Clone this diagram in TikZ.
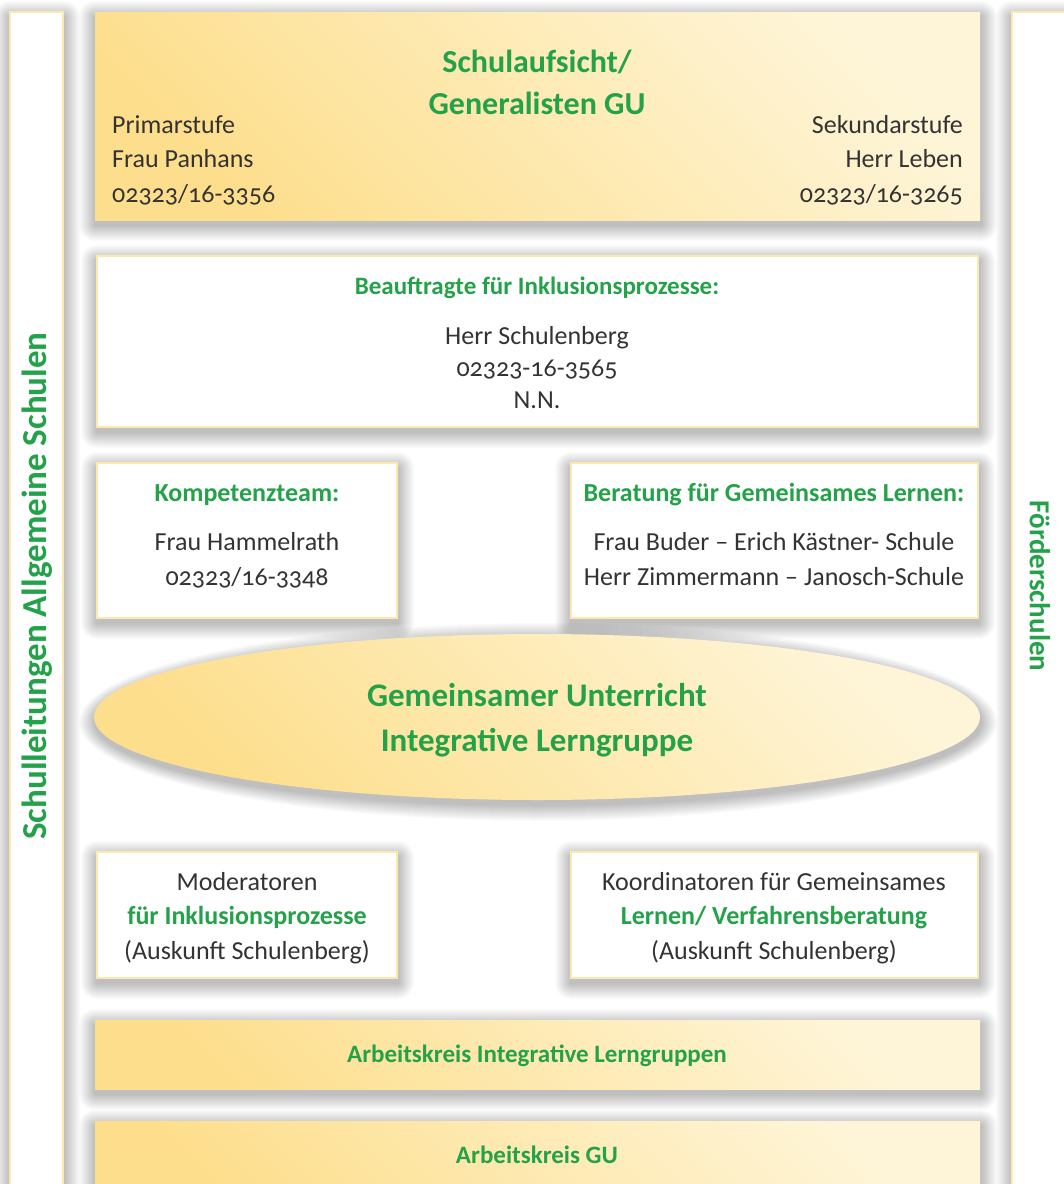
\documentclass[tikz,border=0pt]{standalone}
\usepackage{fontspec}
\setmainfont{Carlito}[Numbers=OldStyle]
\definecolor{gugreen}{HTML}{23A24A}
\definecolor{gutext}{HTML}{333333}
\definecolor{gudark}{HTML}{FDDE8C}
\definecolor{gulight}{HTML}{FEF5D8}
\definecolor{guframe}{HTML}{FDE8AE}
%% soft shadow under a box: left, top, right, bottom
\newcommand{\haze}[4]{%
  \foreach \r in {1,...,16}
    \fill[black,opacity=0.017,rounded corners=\r pt] (#1-\r,#2+\r-5) rectangle (#3+\r+1,#4-\r-5);}
\tikzset{
  goldbox/.style={left color=gudark,right color=gulight,shading angle=135},
  whitebox/.style={fill=white,draw=guframe,line width=2.5pt},
  txt/.style={text=gutext,font=\fontsize{26}{34}\selectfont,inner sep=0pt,anchor=base},
  head/.style={text=gugreen,font=\fontsize{32}{42}\selectfont\bfseries,inner sep=0pt},
  subhead/.style={text=gugreen,font=\fontsize{26}{30}\selectfont\bfseries,inner sep=0pt,anchor=base},
}
\begin{document}
\begin{tikzpicture}[x=1pt,y=1pt]
    \clip (0,0) rectangle (1064,-1184);
    \fill[white] (0,0) rectangle (1064,-1184);
    %% shadows
    \haze{10}{-12}{63}{-1230}
    \haze{1012}{-12}{1090}{-1230}
    \haze{95}{-12}{980}{-220}
    \haze{97}{-256}{978}{-427}
    \haze{97}{-463}{397}{-618}
    \haze{571}{-463}{978}{-618}
    \foreach \r in {1,...,16}
        \fill[black,opacity=0.017] (538,-722) ellipse ({443+\r} and {83+\r});
    \haze{97}{-852}{397}{-978}
    \haze{571}{-852}{978}{-978}
    \haze{95}{-1020}{980}{-1089}
    \haze{95}{-1121}{980}{-1230}
    %% side bars
    \path[whitebox,line width=2pt] (10,-12) rectangle (63,-1210);
    \path[whitebox,line width=2pt] (1012,-12) rectangle (1080,-1210);
    \node[head,rotate=90,font=\fontsize{35}{40}\selectfont\bfseries] (allgemein) at (37,-586) {Schulleitungen Allgemeine Schulen};
    \node[head,rotate=-90,font=\fontsize{29}{34}\selectfont\bfseries] (foerder) at (1040,-586) {Förderschulen};
    %% Schulaufsicht
    \path[goldbox] (95,-12) rectangle (980,-220);
    \node[head,anchor=base] (aufsicht) at (537,-72) {Schulaufsicht/};
    \node[head,anchor=base] (generalisten) at (537,-114) {Generalisten GU};
    \foreach \y/\t in {133/Primarstufe,167/Frau Panhans,202/02323\slash16-3356}
        \node[txt,anchor=base west] (prim\y) at (112,-\y) {\t};
    \foreach \y/\t in {133/Sekundarstufe,167/Herr Leben,202/02323\slash16-3265}
        \node[txt,anchor=base east] (sek\y) at (963,-\y) {\t};
    %% Beauftragte
    \path[whitebox] (97,-256) rectangle (978,-427);
    \node[subhead,font=\fontsize{25}{30}\selectfont\bfseries] (beauftragte) at (537,-294) {Beauftragte für Inklusionsprozesse:};
    \foreach \y/\t in {344/Herr Schulenberg,376/02323-16-3565,408/N.N.}
        \node[txt] (beauf\y) at (537,-\y) {\t};
    %% Kompetenzteam / Beratung
    \path[whitebox] (97,-463) rectangle (397,-618);
    \path[whitebox] (571,-463) rectangle (978,-618);
    \node[subhead] (kompetenz) at (247,-501) {Kompetenzteam:};
    \foreach \y/\t in {550/Frau Hammelrath,585/02323\slash16-3348}
        \node[txt] (komp\y) at (247,-\y) {\t};
    \node[subhead] (beratung) at (774,-501) {Beratung für Gemeinsames Lernen:};
    \foreach \y/\t in {550/Frau Buder -- Erich Kästner- Schule,585/Herr Zimmermann -- Janosch-Schule}
        \node[txt] (berat\y) at (774,-\y) {\t};
    %% Gemeinsamer Unterricht
    \path[goldbox] (537,-717) ellipse (443 and 83);
    \node[head,anchor=base,font=\fontsize{33}{42}\selectfont\bfseries] (unterricht) at (537,-706) {Gemeinsamer Unterricht};
    \node[head,anchor=base,font=\fontsize{33}{42}\selectfont\bfseries] (lerngruppe) at (537,-751) {Integrative Lerngruppe};
    %% Moderatoren / Koordinatoren
    \path[whitebox] (97,-852) rectangle (397,-978);
    \path[whitebox] (571,-852) rectangle (978,-978);
    \node[txt] (moderatoren) at (247,-890) {Moderatoren};
    \node[subhead] (modinkl) at (247,-924) {für Inklusionsprozesse};
    \node[txt] (modausk) at (247,-959) {(Auskunft Schulenberg)};
    \node[txt] (koordinatoren) at (774,-890) {Koordinatoren für Gemeinsames};
    \node[subhead] (koordlernen) at (774,-924) {Lernen/ Verfahrensberatung};
    \node[txt] (koordausk) at (774,-959) {(Auskunft Schulenberg)};
    %% Arbeitskreise
    \path[goldbox] (95,-1020) rectangle (980,-1089);
    \node[subhead,font=\fontsize{25}{30}\selectfont\bfseries] (akil) at (537,-1062) {Arbeitskreis Integrative Lerngruppen};
    \path[goldbox] (95,-1121) rectangle (980,-1210);
    \node[subhead,font=\fontsize{25}{30}\selectfont\bfseries] (akgu) at (537,-1163) {Arbeitskreis GU};
\end{tikzpicture}
\end{document}
